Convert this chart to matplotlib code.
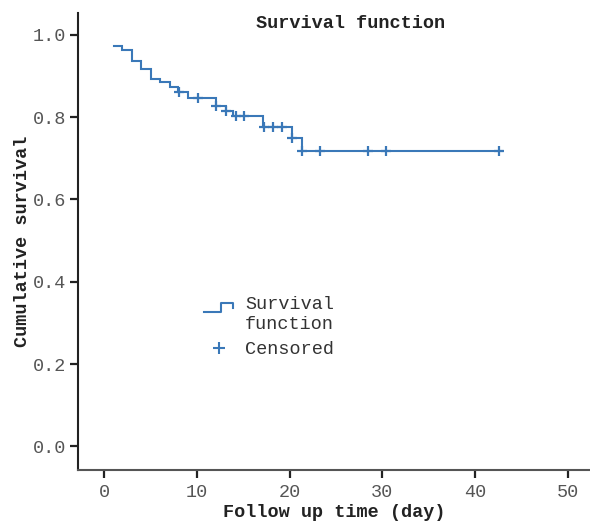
import matplotlib
matplotlib.use("Agg")
import matplotlib.pyplot as plt
from matplotlib.lines import Line2D
from matplotlib.legend_handler import HandlerBase
import numpy as np

# ---- data ----
end_time = 42.9
step_times = [1.05, 1.95, 2.95, 4.0, 5.0, 6.0, 7.05, 8.0, 9.05, 12.1, 13.1, 13.9, 17.1, 20.2, 21.3]
step_surv = [0.972, 0.962, 0.936, 0.917, 0.892, 0.885, 0.874, 0.861, 0.846, 0.828, 0.814, 0.802, 0.777, 0.749, 0.718]
censor_times = [8.05, 10.1, 12.1, 13.1, 14.2, 15.1, 17.2, 18.2, 19.2, 20.2, 21.3, 23.3, 28.4, 30.4, 42.6]

title_text = "Survival function"
xlabel_text = "Follow up time (day)"
ylabel_text = "Cumulative survival"
legend_labels = ["Survival\nfunction", "Censored"]
xticks = [0, 10, 20, 30, 40, 50]
yticks = [0.0, 0.2, 0.4, 0.6, 0.8, 1.0]

BLUE = "#3a78b8"
FONT = "Liberation Mono"
FS = 13.3

plt.rcParams["font.family"] = FONT

fig = plt.figure(figsize=(5.90, 5.21), dpi=100)
ax = fig.add_axes([0.1327, 0.098, 0.8673, 0.877])

# step curve
xs = list(step_times) + [end_time]
ys = list(step_surv) + [step_surv[-1]]
ax.step(xs, ys, where="post", color=BLUE, lw=1.5, solid_joinstyle="miter")

# censored marks: survival at censor time from the step function
def surv_at(t):
    s = 1.0
    for tt, ss in zip(step_times, step_surv):
        if tt <= t + 1e-9:
            s = ss
    return s

cens_y = [surv_at(t) for t in censor_times]
ax.plot(censor_times, cens_y, ls="none", marker="+", ms=7.5, mew=1.6, color=BLUE)

ax.set_xlim(-2.8, 52.4)
ax.set_ylim(-0.057, 1.053)
ax.set_xticks(xticks)
ax.set_yticks(yticks)
ax.set_xticklabels([str(v) for v in xticks])
ax.set_yticklabels([f"{v:.1f}" for v in yticks])

for s in ["top", "right"]:
    ax.spines[s].set_visible(False)
ax.spines["left"].set_color("#222222")
ax.spines["bottom"].set_color("#555555")
ax.spines["left"].set_linewidth(1.5)
ax.spines["bottom"].set_linewidth(1.5)
ax.tick_params(axis="both", length=6, width=1.6, color="#222222",
               labelsize=FS, labelcolor="#555555")
ax.tick_params(axis="y", pad=3)
ax.tick_params(axis="x", pad=4)

ax.set_xlabel(xlabel_text, fontsize=FS, fontweight="bold", color="#222222", labelpad=2)
ax.set_ylabel(ylabel_text, fontsize=FS, fontweight="bold", color="#222222", labelpad=1)
ax.text(0.533, 0.977, title_text, transform=ax.transAxes, ha="center", va="center",
        fontsize=FS, fontweight="bold", color="#222222")


class StepHandler(HandlerBase):
    def create_artists(self, legend, orig_handle, xdescent, ydescent,
                       width, height, fontsize, trans):
        x0 = -xdescent
        y0 = -ydescent + 6.5
        h = 6.5
        px = [x0, x0 + 0.58 * width, x0 + 0.58 * width, x0 + width, x0 + width]
        py = [y0, y0, y0 + h, y0 + h, y0 + 0.42 * h]
        ln = Line2D(px, py, color=BLUE, lw=1.5, transform=trans)
        return [ln]


step_handle = Line2D([], [], color=BLUE, lw=1.5)
cens_handle = Line2D([], [], ls="none", marker="+", ms=9, mew=1.5, color=BLUE)
leg = ax.legend([step_handle, cens_handle], legend_labels,
                handler_map={step_handle: StepHandler()},
                loc="upper left", bbox_to_anchor=(0.221, 0.41),
                frameon=False, fontsize=FS, handlelength=1.55,
                handletextpad=0.65, labelspacing=0.42, borderpad=0.2)
for t in leg.get_texts():
    t.set_color("#333333")
    t.set_linespacing(1.3)

fig.savefig("out.png", dpi=100)
